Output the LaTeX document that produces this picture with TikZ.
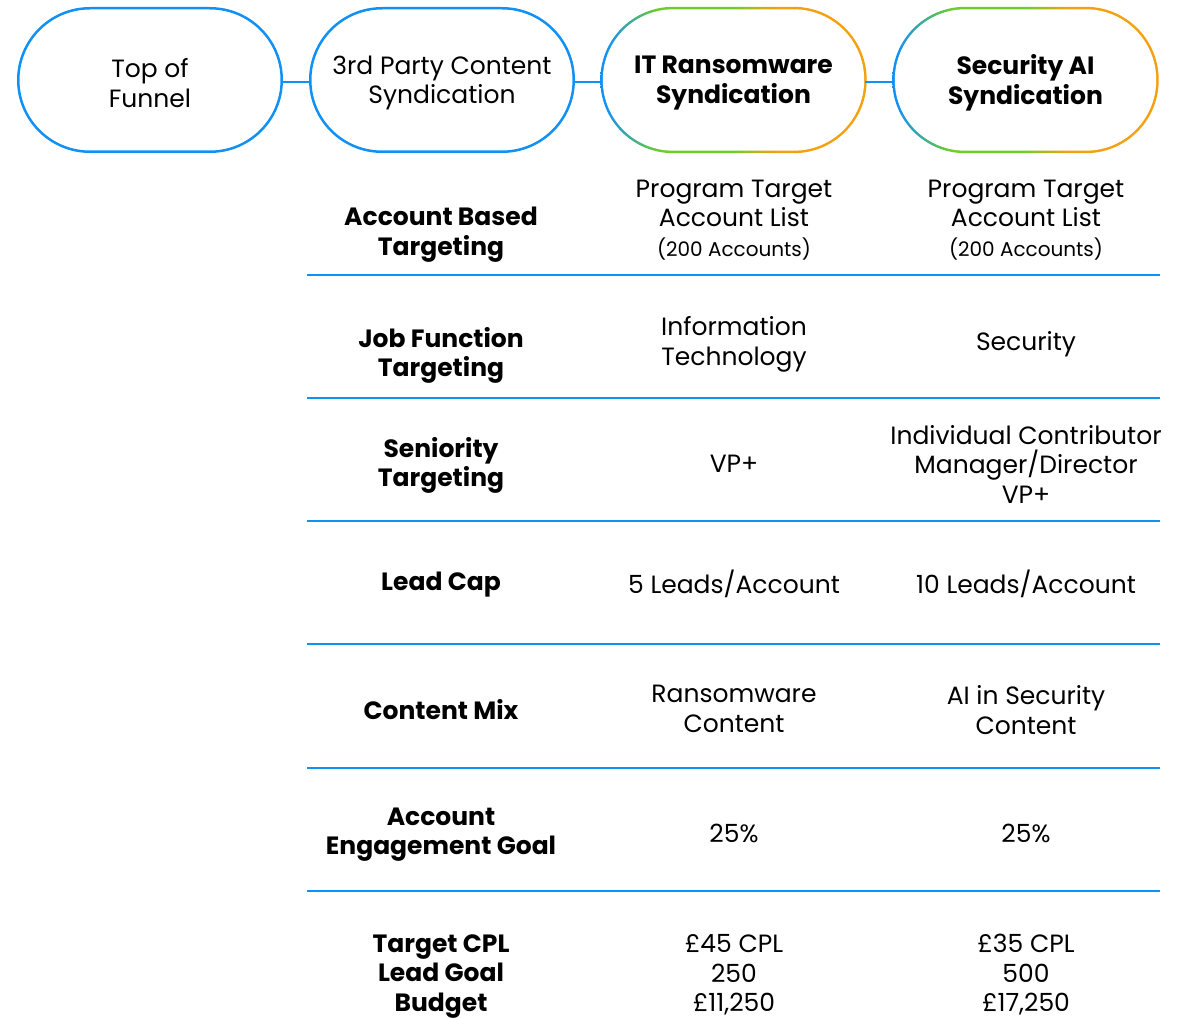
\documentclass[tikz,border=0pt]{standalone}
\usepackage{fontspec}
\setmainfont{Poppins}
\usetikzlibrary{backgrounds}
\definecolor{lblue}{RGB}{18,145,245}
\definecolor{ggreen}{RGB}{110,205,40}
\definecolor{gorange}{RGB}{245,160,15}
\pgfdeclarehorizontalshading{pillgrad}{100bp}{color(0bp)=(lblue); color(26bp)=(lblue); color(36bp)=(ggreen); color(50bp)=(ggreen); color(58bp)=(gorange); color(100bp)=(gorange)}
\newcommand\regf{\fontsize{25}{29.5}\selectfont}
\newcommand\smallf{\fontsize{20}{29.5}\selectfont}
\begin{document}
\begin{tikzpicture}[x=1pt,y=-1pt,
  pill/.style={rectangle, rounded corners=71.75pt, minimum width=263.5pt, minimum height=143.5pt, inner sep=0pt},
  bluepill/.style={pill, draw=lblue, line width=2.5pt},
  cell/.style={align=center, inner sep=0pt, font=\regf, yshift=-3pt},
  hcell/.style={cell, font=\bfseries\regf},
  sep/.style={draw=lblue, line width=2.5pt},
  conn/.style={draw=lblue, line width=2.5pt}]
\useasboundingbox (0,0) rectangle (1178,1019);
% pills
\node[bluepill] (p1) at (150,80) {};
\node[bluepill] (p2) at (442,80) {};
\node[pill] (p3) at (733.5,80) {};
\node[pill] (p4) at (1025.5,80) {};
\begin{scope}[on background layer]
  \foreach \p in {p3,p4}{
    \shade[shading=pillgrad, rounded corners=73pt] ([xshift=-1.25pt,yshift=1.25pt]\p.north west) rectangle ([xshift=1.25pt,yshift=-1.25pt]\p.south east);
    \fill[white, rounded corners=70.5pt] ([xshift=1.25pt,yshift=-1.25pt]\p.north west) rectangle ([xshift=-1.25pt,yshift=1.25pt]\p.south east);
  }
\end{scope}
\node[cell] (t1) at (p1.center) {Top of\\Funnel};
\node[cell] (t2) at (p2.center) {3rd Party Content\\Syndication};
\node[hcell] (t3) at (p3.center) {IT Ransomware\\Syndication};
\node[hcell] (t4) at (p4.center) {Security AI\\Syndication};
\draw[conn] ([yshift=-2pt]p1.east) -- ([yshift=-2pt]p2.west);
\draw[conn] ([yshift=-2pt]p2.east) -- ([yshift=-2pt]p3.west);
\draw[conn] ([yshift=-2pt]p3.east) -- ([yshift=-2pt]p4.west);
% separators
\foreach \y in {275,398,521,644,768,891}
  \draw[sep] (307,\y) -- (1160,\y);
% row 1
\node[hcell] (a1) at (441,231.5) {Account Based\\Targeting};
\node[cell] (b1) at (734,217) {Program Target\\Account List\\{\smallf (200 Accounts)}};
\node[cell] (c1) at (1026,217) {Program Target\\Account List\\{\smallf (200 Accounts)}};
% row 2
\node[hcell] (a2) at (441,352.5) {Job Function\\Targeting};
\node[cell] (b2) at (734,341.5) {Information\\Technology};
\node[cell] (c2) at (1026,341) {Security};
% row 3
\node[hcell] (a3) at (441,462.5) {Seniority\\Targeting};
\node[cell] (b3) at (734,461) {VP+};
\node[cell] (c3) at (1026,461) {Individual Contributor\\Manager/Director\\VP+};
% row 4
\node[hcell] (a4) at (441,582) {Lead Cap};
\node[cell] (b4) at (734,581) {5 Leads/Account};
\node[cell] (c4) at (1026,581) {10 Leads/Account};
% row 5
\node[hcell] (a5) at (441,707) {Content Mix};
\node[cell] (b5) at (734,706) {Ransomware\\Content};
\node[cell] (c5) at (1026,707) {AI in Security\\Content};
% row 6
\node[hcell] (a6) at (441,831.5) {Account\\Engagement Goal};
\node[cell] (b6) at (734,830) {25\%};
\node[cell] (c6) at (1026,830) {25\%};
% row 7
\node[hcell] (a7) at (441,973.5) {Target CPL\\Lead Goal\\Budget};
\node[cell] (b7) at (734,972) {£45 CPL\\250\\£11,250};
\node[cell] (c7) at (1026,972) {£35 CPL\\500\\£17,250};
\end{tikzpicture}
\end{document}
